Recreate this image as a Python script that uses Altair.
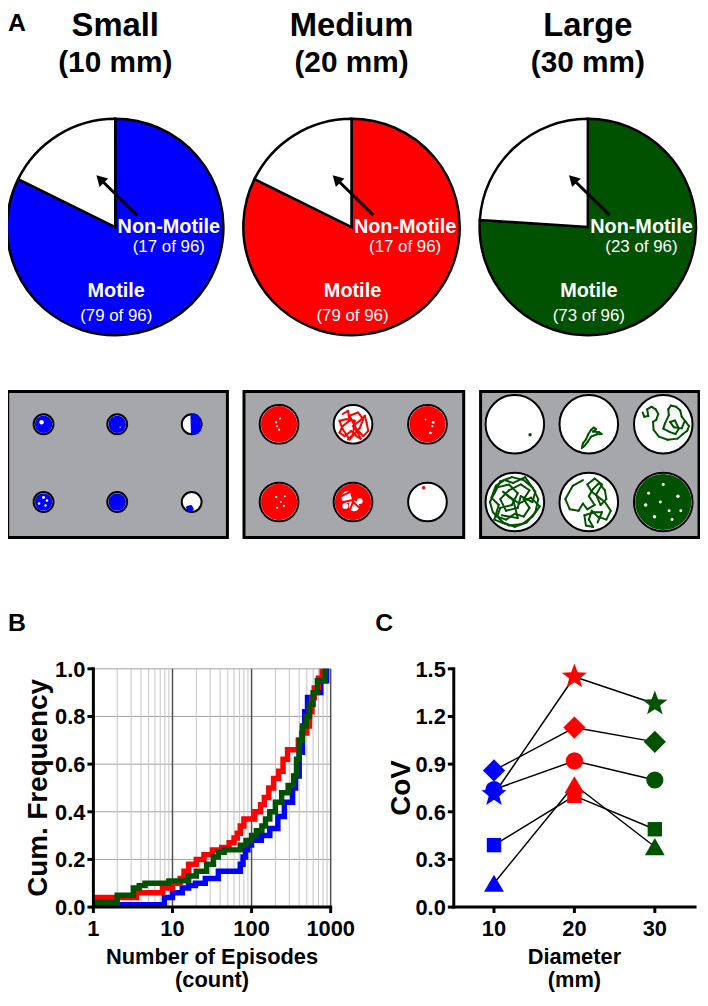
import math
import altair as alt
import pandas as pd

FONT = "Liberation Sans"

# ======================= DATA =======================
# Panel A: pie charts
size_names = ["Small", "Medium", "Large"]
size_mm = ["(10 mm)", "(20 mm)", "(30 mm)"]
motile_counts = [79, 79, 73]
non_motile_counts = [17, 17, 23]
total_larvae = 96
state_names = ["Motile", "Non-Motile"]

# Panel A: example wells (row-major 2 x 3); 1 = well densely covered by tracks
small_filled = [1, 1, 0, 1, 1, 0]
medium_filled = [1, 0, 1, 1, 1, 0]
large_filled = [0, 0, 0, 0, 0, 1]
# untracked white specks inside covered wells: (box, well, rx, ry, diameter in radii)
white_specks = [
    (0, 0, -0.2, -0.2, 0.45), (0, 1, 0.3, 0.3, 0.15),
    (0, 3, 0.0, -0.45, 0.3), (0, 3, 0.35, -0.15, 0.25), (0, 3, -0.45, 0.15, 0.25), (0, 3, 0.2, 0.35, 0.25),
    (1, 0, -0.15, -0.1, 0.12), (1, 0, -0.1, 0.1, 0.1), (1, 0, 0.0, 0.28, 0.12), (1, 0, 0.05, -0.3, 0.1),
    (1, 2, 0.3, -0.1, 0.14), (1, 2, 0.15, 0.45, 0.14), (1, 2, -0.1, -0.25, 0.1), (1, 2, 0.25, 0.1, 0.12),
    (1, 3, -0.15, -0.25, 0.12), (1, 3, 0.1, 0.0, 0.1), (1, 3, 0.25, 0.2, 0.12), (1, 3, -0.1, 0.3, 0.12),
    (1, 3, 0.3, -0.3, 0.1),
    (1, 4, -0.3, -0.25, 0.6), (1, 4, 0.05, 0.2, 0.55), (1, 4, 0.35, -0.05, 0.3), (1, 4, -0.4, 0.2, 0.3),
    (2, 5, -0.6, 0.1, 0.12), (2, 5, -0.5, -0.3, 0.1), (2, 5, -0.3, 0.5, 0.12), (2, 5, 0.0, -0.6, 0.1),
    (2, 5, 0.2, 0.3, 0.1), (2, 5, 0.5, -0.2, 0.12), (2, 5, -0.1, 0.0, 0.1), (2, 5, 0.3, 0.6, 0.1),
    (2, 5, 0.6, 0.3, 0.1),
]
# isolated track dots: (box, well, rx, ry)
track_dots = [(0, 5, -0.2, 0.6), (1, 5, -0.2, -0.74), (2, 0, 0.52, 0.36)]
# track polylines: (box, well, [(rx, ry), ...]) in well radii, y downwards
tracks = [
    (0, 2, [(0.05, -0.85), (0.1, 0.85), (0.3, 0.85), (0.28, -0.9), (0.5, -0.8), (0.55, 0.8), (0.75, 0.55),
            (0.72, -0.55)]),
    (0, 5, [(-0.4, 0.55), (-0.1, 0.5), (0.0, 0.7), (-0.3, 0.75)]),
    (1, 1, [(-0.53, -0.53), (-0.26, -0.70), (-0.18, -0.18), (-0.53, 0.09), (-0.70, 0.44), (-0.44, 0.61),
            (-0.09, 0.35), (0.18, 0.61), (0.4, 0.75), (0.26, 0.44), (0.0, 0.09), (0.35, -0.18), (0.61, -0.44),
            (0.70, -0.09), (0.79, 0.35), (0.53, 0.61), (0.18, 0.26), (-0.18, -0.44), (0.26, -0.61),
            (0.53, -0.26), (0.35, 0.18), (-0.18, 0.79), (-0.53, 0.26), (-0.70, -0.18), (-0.35, -0.26),
            (0.09, -0.18), (0.0, 0.53), (-0.26, 0.79)]),
    (1, 4, [(-0.6, -0.3), (-0.1, -0.55), (0.0, -0.1), (-0.5, 0.0)]),
    (1, 4, [(-0.2, 0.5), (0.0, 0.0), (0.4, 0.35)]),
    (2, 1, [(-0.24, 0.82), (-0.20, 0.65), (-0.09, 0.51), (-0.03, 0.36), (0.08, 0.19), (0.17, 0.11),
            (0.25, 0.17), (0.14, 0.25), (0.36, 0.27), (0.44, 0.33), (0.28, 0.34), (0.08, 0.42), (-0.03, 0.59),
            (-0.15, 0.74), (-0.2, 0.78)]),
    (2, 2, [(-0.70, -0.40), (-0.65, -0.26), (-0.51, -0.28), (-0.55, -0.51), (-0.40, -0.60), (-0.26, -0.51),
            (-0.17, -0.35), (-0.24, -0.15), (-0.35, -0.08), (-0.33, 0.19), (-0.15, 0.42), (0.15, 0.53),
            (0.49, 0.49), (0.67, 0.33), (0.82, 0.22), (0.88, 0.06), (0.76, -0.09), (0.63, -0.26), (0.58, -0.47),
            (0.44, -0.60), (0.26, -0.64), (0.17, -0.51), (0.19, -0.31), (0.06, -0.03), (0.0, 0.15),
            (0.23, 0.27), (0.42, 0.33), (0.53, 0.15), (0.40, -0.13), (0.23, -0.08), (0.36, 0.10), (0.63, 0.14),
            (0.72, -0.08)]),
    (2, 3, [(-0.7, -0.3), (-0.5, -0.7), (-0.1, -0.85), (0.3, -0.75), (0.6, -0.5), (0.8, -0.1), (0.7, 0.35),
            (0.4, 0.7), (0.0, 0.85), (-0.4, 0.7), (-0.75, 0.35), (-0.85, 0.0), (-0.6, -0.5), (-0.2, -0.6),
            (0.1, -0.3), (-0.1, 0.1), (-0.5, 0.2), (-0.6, 0.5), (-0.3, 0.6), (0.0, 0.4), (0.3, 0.5), (0.5, 0.2),
            (0.3, -0.1), (0.5, -0.4), (0.2, -0.6), (-0.2, -0.4), (-0.5, -0.1), (-0.3, 0.3), (0.1, 0.2),
            (0.2, -0.2), (0.6, 0.0), (0.7, -0.35), (0.35, -0.85), (-0.05, -0.65), (-0.35, -0.75),
            (-0.65, -0.55), (-0.8, -0.15), (-0.55, 0.1), (-0.7, 0.6), (-0.2, 0.8), (0.25, 0.75), (0.6, 0.5),
            (0.85, 0.15), (0.55, -0.15), (0.15, 0.05), (-0.15, -0.15), (-0.4, -0.35), (-0.05, -0.05),
            (0.1, 0.55), (-0.45, 0.45)]),
    (2, 4, [(-0.2, -0.75), (-0.55, -0.55), (-0.8, -0.1), (-0.65, 0.25), (-0.35, 0.3), (-0.2, 0.05),
            (-0.05, 0.25), (0.2, 0.1), (0.0, -0.2), (0.15, -0.45), (0.35, -0.65), (0.55, -0.4), (0.6, -0.1),
            (0.4, 0.1), (0.25, -0.25), (0.45, -0.6), (0.2, -0.8), (-0.05, -0.6), (0.1, -0.35), (0.55, 0.0),
            (0.75, 0.3), (0.6, 0.6), (0.3, 0.5), (0.1, 0.3), (0.0, 0.6), (0.15, 0.85), (-0.1, 0.8),
            (-0.15, 0.45), (0.2, 0.35), (0.45, 0.35), (0.3, 0.7)]),
]

# Panel B: cumulative frequency (step curves)
blue_x = [1, 7.9, 10, 13.3, 16, 19.5, 26, 38, 72, 78, 84, 90, 100, 133, 170, 215, 260, 330, 360, 400, 440,
          470, 510, 620, 750, 890]
blue_y = [0.01, 0.04, 0.06, 0.08, 0.09, 0.10, 0.12, 0.15, 0.18, 0.21, 0.24, 0.26, 0.28, 0.30, 0.33, 0.38, 0.44,
          0.50, 0.55, 0.65, 0.75, 0.82, 0.88, 0.90, 0.95, 1.0]
red_x = [1, 3.5, 7.5, 10, 12.5, 14, 16, 20, 25, 32, 42, 52, 60, 66, 72, 80, 110, 130, 145, 165, 190, 220, 250,
         285, 390, 430, 500, 540, 580, 620, 700, 780]
red_y = [0.04, 0.06, 0.08, 0.10, 0.12, 0.15, 0.18, 0.20, 0.22, 0.24, 0.25, 0.27, 0.29, 0.31, 0.34, 0.37, 0.40,
         0.43, 0.46, 0.50, 0.54, 0.57, 0.62, 0.66, 0.70, 0.73, 0.76, 0.82, 0.88, 0.92, 0.96, 1.0]
green_x = [1, 2, 3.2, 3.8, 4.5, 9, 16, 20, 27, 33, 38, 45, 72, 85, 100, 115, 135, 150, 170, 200, 240, 290, 340,
           370, 400, 440, 490, 540, 600, 680, 850]
green_y = [0.02, 0.05, 0.08, 0.09, 0.10, 0.11, 0.13, 0.15, 0.18, 0.21, 0.23, 0.24, 0.26, 0.28, 0.30, 0.32, 0.34,
           0.37, 0.40, 0.44, 0.48, 0.51, 0.55, 0.62, 0.70, 0.76, 0.80, 0.85, 0.90, 0.95, 1.0]
major_ticks = [1, 10, 100, 1000]
minor_ticks = [2, 3, 4, 5, 6, 7, 8, 9, 20, 30, 40, 50, 60, 70, 80, 90, 200, 300, 400, 500, 600, 700, 800, 900]
freq_ticks = [0.0, 0.2, 0.4, 0.6, 0.8, 1.0]

# Panel C: coefficient of variation
diameters = [10, 20, 30]
marker_names = ["star", "diamond", "circle", "square", "triangle"]
cov_star = [0.71, 1.45, 1.28]
cov_diamond = [0.86, 1.13, 1.04]
cov_circle = [0.74, 0.92, 0.80]
cov_square = [0.39, 0.70, 0.49]
cov_triangle = [0.15, 0.77, 0.38]
cov_ticks = [0.0, 0.3, 0.6, 0.9, 1.2, 1.5]

# ======================= STYLE / LAYOUT (page pixels) =======================
group_colors = ["#0000ff", "#ff0000", "#005200"]
box_gray = "#a6a7ab"
CANVAS_W, CANVAS_H = 697, 990
PX = alt.Scale(domain=[8, 8 + CANVAS_W], range=[0, CANVAS_W], nice=False, zero=False)
PY = alt.Scale(domain=[8, 8 + CANVAS_H], range=[0, CANVAS_H], nice=False, zero=False)

PIE_CX = [116, 354, 592]
PIE_CY = 225
PIE_R = 109
TITLE_BASE, SUB_BASE = 33, 68.5
LBL = {"bold1": (54, 6.5), "norm1": (54, 25), "bold2": (1, 70.5), "norm2": (1, 95)}
ARROW_TAIL = (22, -12)
ARROW_HEAD = (-15.2, -48.3)
THETA = alt.Scale(domain=[0, total_larvae], range=[0, 2 * math.pi], zero=False, nice=False)

BOX_X = [(7.7, 229), (245.7, 467), (484, 704)]
BOX_Y = (390.7, 537.7)
WELL_CX = [[43.8, 118, 193], [281, 355.5, 430.5], [518.5, 593, 668]]
WELL_CY = [423.7, 502]
WELL_R = [10, 19.5, 29.5]
TRACK_W = [3.5, 2.0, 2.0]

B_X = (94, 333)
C_X = (457, 700)
PLOT_Y = (670, 910)
BX = alt.Scale(type="log", domain=[1, 1000], range=[B_X[0] - 8, B_X[1] - 8], nice=False)
BY = alt.Scale(domain=[0, 1], range=[PLOT_Y[1] - 8, PLOT_Y[0] - 8], nice=False, zero=False)
CX = alt.Scale(domain=[5, 35], range=[C_X[0] - 8, C_X[1] - 8], nice=False, zero=False)
CY = alt.Scale(domain=[0, 1.5], range=[PLOT_Y[1] - 8, PLOT_Y[0] - 8], nice=False, zero=False)
STAR_PATH = ("M0,-1L0.247,-0.34L0.951,-0.309L0.399,0.13L0.588,0.809L0,0.42L-0.588,0.809"
             "L-0.399,0.13L-0.951,-0.309L-0.247,-0.34Z")
marker_shape = {"star": STAR_PATH, "diamond": "diamond", "circle": "circle", "square": "square",
                "triangle": "triangle-up"}
marker_size = {"star": 700, "diamond": 500, "circle": 300, "square": 210, "triangle": 400}
marker_draw_order = ["circle", "diamond", "star", "square", "triangle"]


def enc(xf, yf, xs=PX, ys=PY):
    return dict(x=alt.X(xf, scale=xs, axis=None), y=alt.Y(yf, scale=ys, axis=None))


def text_layer(df, **mk):
    base = dict(font=FONT, color="black", baseline="alphabetic", align="center")
    base.update(mk)
    return alt.Chart(df).mark_text(**base)


layers = []

# ---------------- Panel A: pies ----------------
pie_rows = []
for i in range(3):
    counts = [motile_counts[i], non_motile_counts[i]]
    fills = [group_colors[i], "white"]
    start = 0
    for s, c, f in zip(state_names, counts, fills):
        pie_rows.append({"pie": size_names[i], "state": s, "c0": start, "c1": start + c, "fill": f,
                         "cx": PIE_CX[i], "cy": PIE_CY})
        start += c
layers.append(alt.Chart(pd.DataFrame(pie_rows)).mark_arc(outerRadius=PIE_R, stroke="black",
                                                         strokeWidth=2.5).encode(
    theta=alt.Theta("c0:Q", scale=THETA),
    theta2="c1:Q",
    color=alt.Color("fill:N", scale=None),
    **enc("cx:Q", "cy:Q")))

title_df = pd.DataFrame({"t": size_names, "x": PIE_CX, "y": [TITLE_BASE] * 3})
sub_df = pd.DataFrame({"t": size_mm, "x": PIE_CX, "y": [SUB_BASE] * 3})
layers.append(text_layer(title_df, fontSize=33, fontWeight="bold").encode(text="t:N", **enc("x:Q", "y:Q")))
layers.append(text_layer(sub_df, fontSize=30, fontWeight="bold").encode(text="t:N", **enc("x:Q", "y:Q")))

bold_rows, norm_rows = [], []
for i in range(3):
    bold_rows += [{"t": "Non-Motile", "x": PIE_CX[i] + LBL["bold1"][0], "y": PIE_CY + LBL["bold1"][1]},
                  {"t": "Motile", "x": PIE_CX[i] + LBL["bold2"][0], "y": PIE_CY + LBL["bold2"][1]}]
    norm_rows += [{"t": f"({non_motile_counts[i]} of {total_larvae})", "x": PIE_CX[i] + LBL["norm1"][0],
                   "y": PIE_CY + LBL["norm1"][1]},
                  {"t": f"({motile_counts[i]} of {total_larvae})", "x": PIE_CX[i] + LBL["norm2"][0],
                   "y": PIE_CY + LBL["norm2"][1]}]
layers.append(text_layer(pd.DataFrame(bold_rows), fontSize=20, fontWeight="bold", color="white").encode(
    text="t:N", **enc("x:Q", "y:Q")))
layers.append(text_layer(pd.DataFrame(norm_rows), fontSize=17, color="white").encode(
    text="t:N", **enc("x:Q", "y:Q")))

arr_df = pd.DataFrame({"x": [c + ARROW_TAIL[0] for c in PIE_CX], "y": [PIE_CY + ARROW_TAIL[1]] * 3,
                       "hx": [c + ARROW_HEAD[0] for c in PIE_CX], "hy": [PIE_CY + ARROW_HEAD[1]] * 3})
layers.append(alt.Chart(arr_df).mark_rule(color="black", strokeWidth=3).encode(
    x2="hx:Q", y2="hy:Q", **enc("x:Q", "y:Q")))
layers.append(alt.Chart(arr_df).mark_point(shape="triangle-up", filled=True, color="black", opacity=1,
                                           size=150, angle=315, strokeWidth=0).encode(**enc("hx:Q", "hy:Q")))

letters_df = pd.DataFrame({"t": ["A", "B", "C"], "x": [8, 8, 378], "y": [28, 632, 632]})
layers.append(text_layer(letters_df, fontSize=25, fontWeight="bold", align="left").encode(
    text="t:N", **enc("x:Q", "y:Q")))

# ---------------- Panel A: wells ----------------
box_df = pd.DataFrame({"x0": [b[0] for b in BOX_X], "x1": [b[1] for b in BOX_X],
                       "y0": [BOX_Y[0]] * 3, "y1": [BOX_Y[1]] * 3})
layers.append(alt.Chart(box_df).mark_rect(fill=box_gray, stroke="black", strokeWidth=3).encode(
    x2="x1:Q", y2="y1:Q", **enc("x0:Q", "y0:Q")))

well_rows, spk_rows, seg_rows, dot_rows = [], [], [], []
for b, filled in enumerate([small_filled, medium_filled, large_filled]):
    r = WELL_R[b]
    for w in range(6):
        well_rows.append({"cx": WELL_CX[b][w % 3], "cy": WELL_CY[w // 3], "osize": (2 * r) ** 2,
                          "fsize": (2 * (r - 1.2)) ** 2, "filled": filled[w], "col": group_colors[b]})


def wpos(b, w, rx, ry):
    r = WELL_R[b]
    return WELL_CX[b][w % 3] + rx * r, WELL_CY[w // 3] + ry * r


for (b, w, rx, ry, d) in white_specks:
    px, py = wpos(b, w, rx, ry)
    spk_rows.append({"px": px, "py": py, "s": (d * WELL_R[b]) ** 2})
for (b, w, pts) in tracks:
    for (p, q) in zip(pts[:-1], pts[1:]):
        x0, y0 = wpos(b, w, *p)
        x1, y1 = wpos(b, w, *q)
        seg_rows.append({"x0": x0, "y0": y0, "x1": x1, "y1": y1, "col": group_colors[b], "sw": TRACK_W[b]})
for (b, w, rx, ry) in track_dots:
    px, py = wpos(b, w, rx, ry)
    dot_rows.append({"px": px, "py": py, "col": group_colors[b]})

wdf = pd.DataFrame(well_rows)
layers.append(alt.Chart(wdf).mark_point(shape="circle", filled=True, fill="white", stroke="black",
                                        strokeWidth=2, opacity=1).encode(
    size=alt.Size("osize:Q", scale=None), **enc("cx:Q", "cy:Q")))
layers.append(alt.Chart(wdf).transform_filter("datum.filled == 1").mark_point(
    shape="circle", filled=True, opacity=1, strokeWidth=0).encode(
    size=alt.Size("fsize:Q", scale=None), color=alt.Color("col:N", scale=None), **enc("cx:Q", "cy:Q")))
layers.append(alt.Chart(pd.DataFrame(spk_rows)).mark_point(shape="circle", filled=True, color="white",
                                                           opacity=1, strokeWidth=0).encode(
    size=alt.Size("s:Q", scale=None), **enc("px:Q", "py:Q")))
layers.append(alt.Chart(pd.DataFrame(seg_rows)).mark_rule(strokeCap="round").encode(
    x2="x1:Q", y2="y1:Q", color=alt.Color("col:N", scale=None),
    strokeWidth=alt.StrokeWidth("sw:Q", scale=None), **enc("x0:Q", "y0:Q")))
layers.append(alt.Chart(pd.DataFrame(dot_rows)).mark_point(shape="circle", filled=True, opacity=1,
                                                           size=12, strokeWidth=0).encode(
    color=alt.Color("col:N", scale=None), **enc("px:Q", "py:Q")))

# ---------------- Panel B ----------------
hgrid = pd.DataFrame({"v": freq_ticks, "lo": 1, "hi": 1000})
layers.append(alt.Chart(hgrid).mark_rule(color="#a0a0a0", strokeWidth=1).encode(
    x2="hi:Q", **enc("lo:Q", "v:Q", BX, BY)))
vminor = pd.DataFrame({"v": minor_ticks, "lo": 0.0, "hi": 1.0})
layers.append(alt.Chart(vminor).mark_rule(color="#c4c4c4", strokeWidth=1).encode(
    y2="hi:Q", **enc("v:Q", "lo:Q", BX, BY)))
vmajor = pd.DataFrame({"v": major_ticks[1:], "lo": 0.0, "hi": 1.0})
layers.append(alt.Chart(vmajor).mark_rule(color="#505050", strokeWidth=1.5).encode(
    y2="hi:Q", **enc("v:Q", "lo:Q", BX, BY)))

for xs_, ys_, colr in [(blue_x, blue_y, group_colors[0]), (red_x, red_y, group_colors[1]),
                       (green_x, green_y, group_colors[2])]:
    sdf = pd.DataFrame({"x": xs_, "y": ys_, "k": list(range(len(xs_)))})
    layers.append(alt.Chart(sdf).mark_line(interpolate="step-after", strokeWidth=5.5, color=colr).encode(
        order="k:Q", **enc("x:Q", "y:Q", BX, BY)))

bdom = pd.DataFrame({"x0": [1], "x1": [1000], "y0": [0.0], "y1": [1.0]})
layers.append(alt.Chart(bdom).mark_rule(color="black", strokeWidth=3, strokeCap="square").encode(
    x2="x1:Q", **enc("x0:Q", "y0:Q", BX, BY)))
layers.append(alt.Chart(bdom).mark_rule(color="black", strokeWidth=3, strokeCap="square").encode(
    y2="y1:Q", **enc("x0:Q", "y0:Q", BX, BY)))
bxt = pd.DataFrame({"v": major_ticks, "lo": 0.0, "t": [str(v) for v in major_ticks]})
layers.append(alt.Chart(bxt).mark_rule(color="black", strokeWidth=3, y2Offset=6).encode(
    y2="lo:Q", **enc("v:Q", "lo:Q", BX, BY)))
layers.append(text_layer(bxt, fontSize=22, fontWeight="bold", dy=29).encode(
    text="t:N", **enc("v:Q", "lo:Q", BX, BY)))
byt = pd.DataFrame({"v": freq_ticks, "lo": 1, "t": [f"{v:.1f}" for v in freq_ticks]})
layers.append(alt.Chart(byt).mark_rule(color="black", strokeWidth=3, x2Offset=-6).encode(
    x2="lo:Q", **enc("lo:Q", "v:Q", BX, BY)))
layers.append(text_layer(byt, fontSize=22, fontWeight="bold", align="right", dx=-8, dy=8).encode(
    text="t:N", **enc("lo:Q", "v:Q", BX, BY)))

# ---------------- axis titles (page positions) ----------------
xt_df = pd.DataFrame({"t": ["Number of Episodes", "(count)", "Diameter", "(mm)"],
                      "x": [213.5, 213.5, 578.5, 578.5], "y": [967, 990, 967, 990]})
layers.append(text_layer(xt_df, fontSize=22, fontWeight="bold").encode(text="t:N", **enc("x:Q", "y:Q")))
yt_df = pd.DataFrame({"t": ["Cum. Frequency", "CoV"], "x": [47, 413], "y": [790, 790]})
layers.append(text_layer(yt_df, fontSize=28, fontWeight="bold", angle=270).encode(
    text="t:N", **enc("x:Q", "y:Q")))

# ---------------- Panel C ----------------
cdom = pd.DataFrame({"x0": [5], "x1": [35], "y0": [0.0], "y1": [1.5]})
layers.append(alt.Chart(cdom).mark_rule(color="black", strokeWidth=3, strokeCap="square").encode(
    x2="x1:Q", **enc("x0:Q", "y0:Q", CX, CY)))
layers.append(alt.Chart(cdom).mark_rule(color="black", strokeWidth=3, strokeCap="square").encode(
    y2="y1:Q", **enc("x0:Q", "y0:Q", CX, CY)))
cxt = pd.DataFrame({"v": diameters, "lo": 0.0, "t": [str(v) for v in diameters]})
layers.append(alt.Chart(cxt).mark_rule(color="black", strokeWidth=3, y2Offset=6).encode(
    y2="lo:Q", **enc("v:Q", "lo:Q", CX, CY)))
layers.append(text_layer(cxt, fontSize=22, fontWeight="bold", dy=29).encode(
    text="t:N", **enc("v:Q", "lo:Q", CX, CY)))
cyt = pd.DataFrame({"v": cov_ticks, "lo": 5, "t": [f"{v:.1f}" for v in cov_ticks]})
layers.append(alt.Chart(cyt).mark_rule(color="black", strokeWidth=3, x2Offset=-6).encode(
    x2="lo:Q", **enc("lo:Q", "v:Q", CX, CY)))
layers.append(text_layer(cyt, fontSize=22, fontWeight="bold", align="right", dx=-8, dy=8).encode(
    text="t:N", **enc("lo:Q", "v:Q", CX, CY)))

cov_series = dict(zip(marker_names, [cov_star, cov_diamond, cov_circle, cov_square, cov_triangle]))
cseg = []
for m in marker_names:
    vals = cov_series[m]
    for (d0, v0), (d1, v1) in zip(zip(diameters[:-1], vals[:-1]), zip(diameters[1:], vals[1:])):
        cseg.append({"marker": m, "d0": d0, "v0": v0, "d1": d1, "v1": v1})
layers.append(alt.Chart(pd.DataFrame(cseg)).mark_rule(color="black", strokeWidth=1.5).encode(
    x2="d1:Q", y2="v1:Q", **enc("d0:Q", "v0:Q", CX, CY)))
for m in marker_draw_order:
    mdf = pd.DataFrame({"d": diameters, "v": cov_series[m], "col": group_colors})
    layers.append(alt.Chart(mdf).mark_point(shape=marker_shape[m], size=marker_size[m], filled=True,
                                            opacity=1, strokeWidth=0).encode(
        color=alt.Color("col:N", scale=None), **enc("d:Q", "v:Q", CX, CY)))

chart = alt.layer(*layers).resolve_scale(
    x="independent", y="independent", color="independent", theta="independent",
    size="independent", strokeWidth="independent",
).properties(
    width=CANVAS_W, height=CANVAS_H, padding=0,
    autosize=alt.AutoSizeParams(type="none"),
).configure_view(strokeWidth=0)

chart.save("out.html", embed_options={"renderer": "svg", "actions": False})
